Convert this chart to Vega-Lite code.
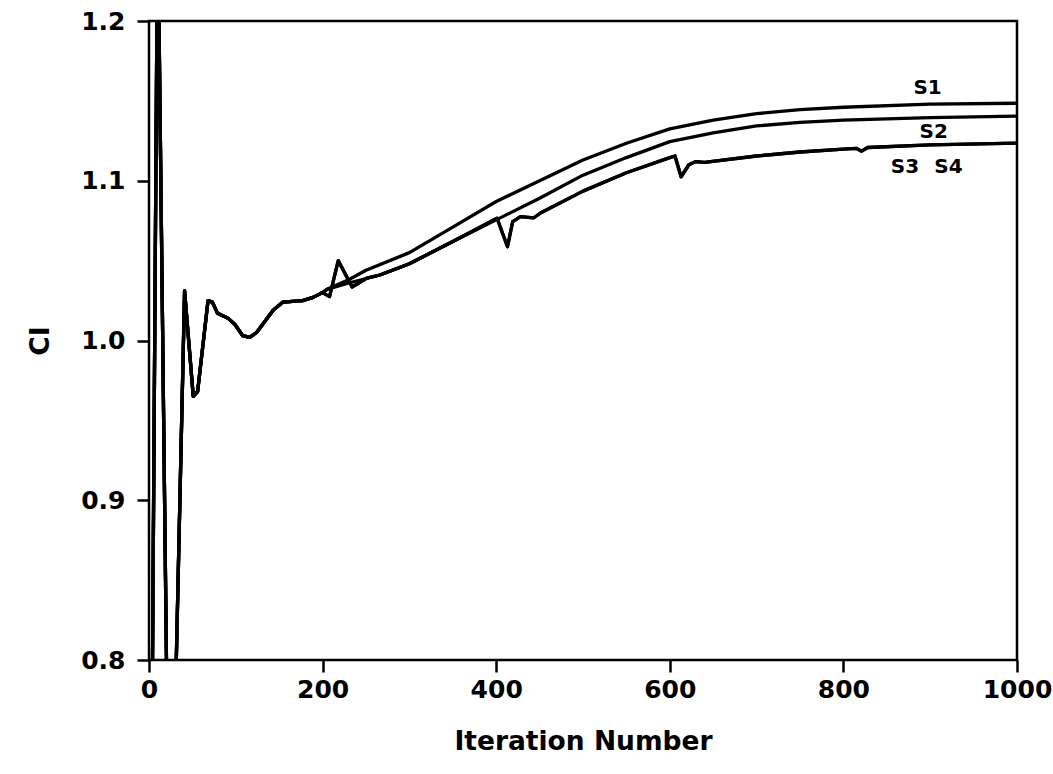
{
  "$schema": "https://vega.github.io/schema/vega-lite/v6.json",
  "width": 868,
  "height": 639,
  "autosize": "none",
  "padding": {"left": 149, "top": 21, "right": 36, "bottom": 114},
  "background": "white",
  "config": {
    "view": {"stroke": "black", "strokeWidth": 2.5},
    "font": "DejaVu Sans"
  },
  "encoding": {
    "x": {
      "field": "x", "type": "quantitative",
      "scale": {"domain": [0, 1000], "nice": false, "zero": false},
      "axis": {
        "values": [0, 200, 400, 600, 800, 1000],
        "format": "d",
        "grid": false, "domain": false,
        "tickSize": 12, "tickWidth": 2.5, "tickColor": "black",
        "labelFont": "DejaVu Sans", "labelFontWeight": "bold", "labelFontSize": 25, "labelColor": "black",
        "labelPadding": 5, "labelFlush": false,
        "title": "Iteration Number",
        "titleFont": "DejaVu Sans", "titleFontWeight": "bold", "titleFontSize": 26.5, "titleColor": "black",
        "titleX": 434, "titleY": 89, "titleBaseline": "alphabetic", "titleAlign": "center"
      }
    },
    "y": {
      "field": "y", "type": "quantitative",
      "scale": {"domain": [0.8, 1.2], "nice": false, "zero": false},
      "axis": {
        "values": [0.8, 0.9, 1.0, 1.1, 1.2],
        "format": ".1f",
        "grid": false, "domain": false,
        "tickSize": 12, "tickWidth": 2.5, "tickColor": "black",
        "labelFont": "DejaVu Sans", "labelFontWeight": "bold", "labelFontSize": 25, "labelColor": "black",
        "labelPadding": 12, "labelFlush": false,
        "title": "CI",
        "titleFont": "DejaVu Sans", "titleFontWeight": "bold", "titleFontSize": 26.5, "titleColor": "black",
        "titleX": -101, "titleY": 319.5, "titleAngle": -90, "titleBaseline": "alphabetic", "titleAlign": "center"
      }
    }
  },
  "layer": [
    {
      "data": {"values": [
        {"series": "S1", "x": 0, "y": 0.48}, {"series": "S1", "x": 10, "y": 1.27}, {"series": "S1", "x": 24, "y": 0.62},
        {"series": "S1", "x": 41, "y": 1.031}, {"series": "S1", "x": 51, "y": 0.965}, {"series": "S1", "x": 56, "y": 0.968},
        {"series": "S1", "x": 68, "y": 1.025}, {"series": "S1", "x": 73, "y": 1.024}, {"series": "S1", "x": 79, "y": 1.017},
        {"series": "S1", "x": 91, "y": 1.014}, {"series": "S1", "x": 99, "y": 1.010}, {"series": "S1", "x": 108, "y": 1.003},
        {"series": "S1", "x": 116, "y": 1.002}, {"series": "S1", "x": 124, "y": 1.005}, {"series": "S1", "x": 143, "y": 1.019},
        {"series": "S1", "x": 154, "y": 1.024}, {"series": "S1", "x": 177, "y": 1.025}, {"series": "S1", "x": 189, "y": 1.027},
        {"series": "S1", "x": 200, "y": 1.030}, {"series": "S1", "x": 205, "y": 1.032}, {"series": "S1", "x": 230, "y": 1.038},
        {"series": "S1", "x": 250, "y": 1.044}, {"series": "S1", "x": 300, "y": 1.055}, {"series": "S1", "x": 350, "y": 1.071},
        {"series": "S1", "x": 400, "y": 1.087}, {"series": "S1", "x": 450, "y": 1.100}, {"series": "S1", "x": 500, "y": 1.113},
        {"series": "S1", "x": 550, "y": 1.1235}, {"series": "S1", "x": 600, "y": 1.1325}, {"series": "S1", "x": 650, "y": 1.138},
        {"series": "S1", "x": 700, "y": 1.142}, {"series": "S1", "x": 750, "y": 1.1445}, {"series": "S1", "x": 800, "y": 1.146},
        {"series": "S1", "x": 900, "y": 1.148}, {"series": "S1", "x": 1000, "y": 1.1485},

        {"series": "S2", "x": 0, "y": 0.48}, {"series": "S2", "x": 10, "y": 1.27}, {"series": "S2", "x": 24, "y": 0.62},
        {"series": "S2", "x": 41, "y": 1.031}, {"series": "S2", "x": 51, "y": 0.965}, {"series": "S2", "x": 56, "y": 0.968},
        {"series": "S2", "x": 68, "y": 1.025}, {"series": "S2", "x": 73, "y": 1.024}, {"series": "S2", "x": 79, "y": 1.017},
        {"series": "S2", "x": 91, "y": 1.014}, {"series": "S2", "x": 99, "y": 1.010}, {"series": "S2", "x": 108, "y": 1.003},
        {"series": "S2", "x": 116, "y": 1.002}, {"series": "S2", "x": 124, "y": 1.005}, {"series": "S2", "x": 143, "y": 1.019},
        {"series": "S2", "x": 154, "y": 1.024}, {"series": "S2", "x": 177, "y": 1.025}, {"series": "S2", "x": 189, "y": 1.027},
        {"series": "S2", "x": 200, "y": 1.030}, {"series": "S2", "x": 205, "y": 1.032}, {"series": "S2", "x": 230, "y": 1.036},
        {"series": "S2", "x": 266, "y": 1.041}, {"series": "S2", "x": 300, "y": 1.048}, {"series": "S2", "x": 350, "y": 1.062},
        {"series": "S2", "x": 400, "y": 1.0755}, {"series": "S2", "x": 450, "y": 1.089}, {"series": "S2", "x": 500, "y": 1.1035},
        {"series": "S2", "x": 550, "y": 1.1145}, {"series": "S2", "x": 600, "y": 1.1245}, {"series": "S2", "x": 650, "y": 1.130},
        {"series": "S2", "x": 700, "y": 1.1343}, {"series": "S2", "x": 750, "y": 1.1365}, {"series": "S2", "x": 800, "y": 1.138},
        {"series": "S2", "x": 900, "y": 1.1395}, {"series": "S2", "x": 1000, "y": 1.1405},

        {"series": "S3", "x": 0, "y": 0.48}, {"series": "S3", "x": 10, "y": 1.27}, {"series": "S3", "x": 24, "y": 0.62},
        {"series": "S3", "x": 41, "y": 1.031}, {"series": "S3", "x": 51, "y": 0.965}, {"series": "S3", "x": 56, "y": 0.968},
        {"series": "S3", "x": 68, "y": 1.025}, {"series": "S3", "x": 73, "y": 1.024}, {"series": "S3", "x": 79, "y": 1.017},
        {"series": "S3", "x": 91, "y": 1.014}, {"series": "S3", "x": 99, "y": 1.010}, {"series": "S3", "x": 108, "y": 1.003},
        {"series": "S3", "x": 116, "y": 1.002}, {"series": "S3", "x": 124, "y": 1.005}, {"series": "S3", "x": 143, "y": 1.019},
        {"series": "S3", "x": 154, "y": 1.024}, {"series": "S3", "x": 177, "y": 1.025}, {"series": "S3", "x": 189, "y": 1.027},
        {"series": "S3", "x": 200, "y": 1.030}, {"series": "S3", "x": 208, "y": 1.0275}, {"series": "S3", "x": 218, "y": 1.050},
        {"series": "S3", "x": 234, "y": 1.0335}, {"series": "S3", "x": 251, "y": 1.039}, {"series": "S3", "x": 266, "y": 1.041},
        {"series": "S3", "x": 300, "y": 1.048}, {"series": "S3", "x": 350, "y": 1.062}, {"series": "S3", "x": 401, "y": 1.0765},
        {"series": "S3", "x": 413, "y": 1.0587}, {"series": "S3", "x": 419, "y": 1.0744}, {"series": "S3", "x": 428, "y": 1.0775},
        {"series": "S3", "x": 443, "y": 1.0767}, {"series": "S3", "x": 451, "y": 1.0798}, {"series": "S3", "x": 500, "y": 1.0935},
        {"series": "S3", "x": 550, "y": 1.105}, {"series": "S3", "x": 600, "y": 1.1145}, {"series": "S3", "x": 606, "y": 1.1155},
        {"series": "S3", "x": 613, "y": 1.1025}, {"series": "S3", "x": 622, "y": 1.110}, {"series": "S3", "x": 630, "y": 1.112},
        {"series": "S3", "x": 640, "y": 1.1115}, {"series": "S3", "x": 700, "y": 1.1155}, {"series": "S3", "x": 750, "y": 1.118},
        {"series": "S3", "x": 800, "y": 1.1198}, {"series": "S3", "x": 815, "y": 1.1203}, {"series": "S3", "x": 821, "y": 1.1185},
        {"series": "S3", "x": 828, "y": 1.1208}, {"series": "S3", "x": 900, "y": 1.1225}, {"series": "S3", "x": 1000, "y": 1.1235},

        {"series": "S4", "x": 0, "y": 0.48}, {"series": "S4", "x": 10, "y": 1.27}, {"series": "S4", "x": 24, "y": 0.62},
        {"series": "S4", "x": 41, "y": 1.031}, {"series": "S4", "x": 51, "y": 0.965}, {"series": "S4", "x": 56, "y": 0.968},
        {"series": "S4", "x": 68, "y": 1.025}, {"series": "S4", "x": 73, "y": 1.024}, {"series": "S4", "x": 79, "y": 1.017},
        {"series": "S4", "x": 91, "y": 1.014}, {"series": "S4", "x": 99, "y": 1.010}, {"series": "S4", "x": 108, "y": 1.003},
        {"series": "S4", "x": 116, "y": 1.002}, {"series": "S4", "x": 124, "y": 1.005}, {"series": "S4", "x": 143, "y": 1.019},
        {"series": "S4", "x": 154, "y": 1.024}, {"series": "S4", "x": 177, "y": 1.025}, {"series": "S4", "x": 189, "y": 1.027},
        {"series": "S4", "x": 200, "y": 1.030}, {"series": "S4", "x": 208, "y": 1.0275}, {"series": "S4", "x": 218, "y": 1.050},
        {"series": "S4", "x": 234, "y": 1.0335}, {"series": "S4", "x": 251, "y": 1.039}, {"series": "S4", "x": 266, "y": 1.041},
        {"series": "S4", "x": 300, "y": 1.048}, {"series": "S4", "x": 350, "y": 1.062}, {"series": "S4", "x": 401, "y": 1.0765},
        {"series": "S4", "x": 413, "y": 1.0587}, {"series": "S4", "x": 419, "y": 1.0744}, {"series": "S4", "x": 428, "y": 1.0775},
        {"series": "S4", "x": 443, "y": 1.0767}, {"series": "S4", "x": 451, "y": 1.0798}, {"series": "S4", "x": 500, "y": 1.0935},
        {"series": "S4", "x": 550, "y": 1.105}, {"series": "S4", "x": 600, "y": 1.1145}, {"series": "S4", "x": 606, "y": 1.1155},
        {"series": "S4", "x": 613, "y": 1.1025}, {"series": "S4", "x": 622, "y": 1.110}, {"series": "S4", "x": 630, "y": 1.112},
        {"series": "S4", "x": 640, "y": 1.1115}, {"series": "S4", "x": 700, "y": 1.1155}, {"series": "S4", "x": 750, "y": 1.118},
        {"series": "S4", "x": 800, "y": 1.1198}, {"series": "S4", "x": 815, "y": 1.1203}, {"series": "S4", "x": 821, "y": 1.1185},
        {"series": "S4", "x": 828, "y": 1.1208}, {"series": "S4", "x": 900, "y": 1.1225}, {"series": "S4", "x": 1000, "y": 1.1235}
      ]},
      "mark": {"type": "line", "color": "black", "strokeWidth": 3.3, "clip": true, "strokeJoin": "round", "strokeCap": "butt"},
      "encoding": {"detail": {"field": "series", "type": "nominal"}}
    },
    {
      "data": {"values": [
        {"label": "S1", "x": 897, "y": 1.158},
        {"label": "S2", "x": 904, "y": 1.1305},
        {"label": "S3", "x": 871, "y": 1.1086},
        {"label": "S4", "x": 921, "y": 1.1086}
      ]},
      "mark": {"type": "text", "font": "DejaVu Sans", "fontWeight": "bold", "fontSize": 20, "color": "black", "align": "center", "baseline": "middle"},
      "encoding": {"text": {"field": "label", "type": "nominal"}}
    }
  ]
}
